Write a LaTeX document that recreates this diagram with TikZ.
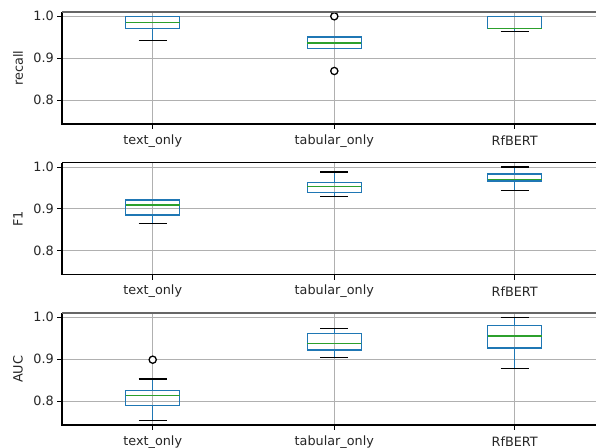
\documentclass[tikz,border=0pt]{standalone}
\usepackage{fontspec}
\setmainfont{DejaVu Sans}
\definecolor{mblue}{HTML}{1F77B4}
\definecolor{mgreen}{HTML}{2CA02C}
\definecolor{mgrid}{HTML}{B0B0B0}
\definecolor{mtext}{HTML}{262626}
\tikzset{
  whisk/.style={draw=mblue, line width=1.3pt},
  capl/.style={draw=black, line width=1.3pt},
  boxl/.style={draw=mblue, line width=1.3pt},
  medl/.style={draw=mgreen, line width=1.2pt},
  gridl/.style={draw=mgrid, line width=0.9pt},
  spine/.style={draw=black, line width=1.1pt},
  topspine/.style={draw=black!60, line width=1.6pt},
  tickl/.style={draw=black, line width=1pt},
  flier/.style={draw=black, line width=1.3pt, fill=white},
  lab/.style={font=\fontsize{12.8}{15}\selectfont, text=mtext, inner sep=0pt},
}
\newcommand\bplot[6]{%
  \draw[whisk] (#1,#2) -- (#1,#5);
  \draw[whisk] (#1,#4) -- (#1,#6);
  \draw[capl] ({#1-14},#5) -- ({#1+14},#5);
  \draw[capl] ({#1-14},#6) -- ({#1+14},#6);
  \draw[boxl] ({#1-27},#2) rectangle ({#1+27},#4);
  \draw[medl] ({#1-27},#3) -- ({#1+27},#3);
}
% #1 y of 1.0, #2 label
\newcommand\axpanel[2]{%
  \foreach \v/\t in {0/1.0,1/0.9,2/0.8}{
    \draw[gridl] (62,{#1+41.9*\v}) -- (600,{#1+41.9*\v});
    \draw[tickl] (57,{#1+41.9*\v}) -- (62,{#1+41.9*\v});
    \node[lab, anchor=east] at (54,{#1+41.9*\v}) {\t};
  }
  \foreach \xx/\t in {152.7/text\_only,334.3/tabular\_only,514.7/RfBERT}{
    \draw[gridl] (\xx,{#1-4.3}) -- (\xx,{#1+107.7});
    \draw[tickl] (\xx,{#1+107.7}) -- (\xx,{#1+112.7});
    \node[lab, anchor=center] at (\xx,{#1+124.5}) {\t};
  }
  \node[lab, rotate=90] at (18,{#1+52}) {#2};
}
\begin{document}
\begin{tikzpicture}[x=1pt,y=-1pt]
\useasboundingbox (0,0) rectangle (596,447);
\clip (0,0) rectangle (596,447);
\fill[white] (0,0) rectangle (596,447);

% ---------- panel 1: recall ----------
\axpanel{16.3}{recall}
\bplot{152.7}{16.3}{22.3}{28.3}{16.3}{40.3}
\bplot{334.3}{37}{43}{48.3}{37}{48.7}
\draw[flier] (334.3,16.3) circle (3.6);
\draw[flier] (334.3,71) circle (3.6);
\bplot{514.7}{16.3}{28.3}{28.3}{16.3}{31.3}
\draw[spine] (62,12) -- (62,124) -- (600,124);
\draw[topspine] (62,12) -- (600,12);

% ---------- panel 2: F1 ----------
\axpanel{167}{F1}
\bplot{152.7}{200}{205}{215}{199.3}{223.3}
\bplot{334.3}{182.7}{186.7}{192.7}{172}{196.3}
\bplot{514.7}{174}{179.3}{181}{167}{190.3}
\draw[spine] (62,162.7) -- (62,274.7) -- (600,274.7);
\draw[spine] (62,162.7) -- (600,162.7);

% ---------- panel 3: AUC ----------
\axpanel{317.3}{AUC}
\bplot{152.7}{390.3}{395.7}{405.3}{379}{420.7}
\draw[flier] (152.7,359.7) circle (3.6);
\bplot{334.3}{333.3}{343.7}{350}{328.3}{357.7}
\bplot{514.7}{325.3}{336}{348}{317.3}{368.3}
\draw[spine] (62,313) -- (62,425) -- (600,425);
\draw[topspine] (62,313) -- (600,313);
\end{tikzpicture}
\end{document}
